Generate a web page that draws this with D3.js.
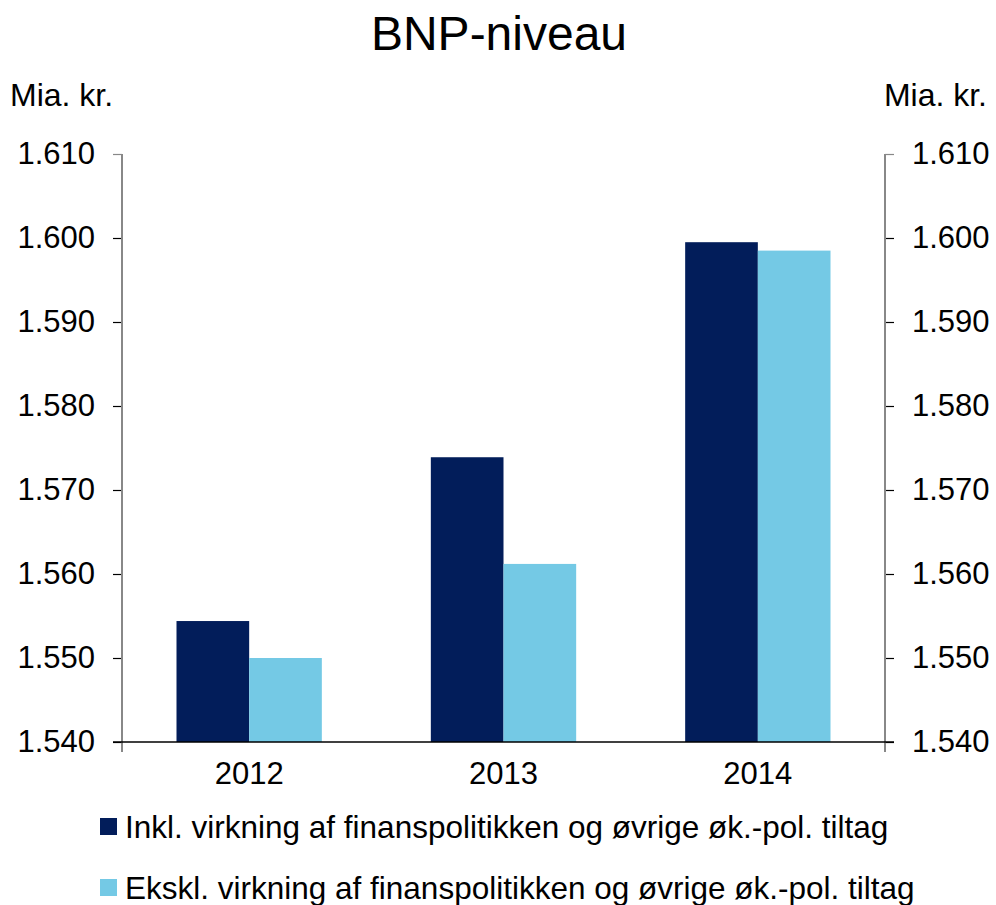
<!DOCTYPE html>
<html>
<head>
<meta charset="utf-8">
<script src="https://cdn.jsdelivr.net/npm/d3@7"></script>
<style>
  body { margin: 0; background: #fff; }
  svg text { font-family: "Liberation Sans", Arial, sans-serif; fill: #000; }
</style>
</head>
<body>
<svg id="chart" width="996" height="905"></svg>
<script>
const years = ['2012', '2013', '2014']
const seriesNames = [
  'Inkl. virkning af finanspolitikken og øvrige øk.-pol. tiltag',
  'Ekskl. virkning af finanspolitikken og øvrige øk.-pol. tiltag'
]
const inkl = [1554.4, 1573.9, 1599.5]
const ekskl = [1550.0, 1561.2, 1598.5]
const yTicks = [1540, 1550, 1560, 1570, 1580, 1590, 1600, 1610]
const colors = ['#021D5A', '#74C9E5']

const svg = d3.select('#chart')
const plotLeft = 122
const plotRight = 885
const plotTop = 154
const plotBottom = 742

const x = d3.scaleBand().domain(years).range([plotLeft, plotRight])
const xInner = d3.scaleBand().domain([0, 1]).range([0, x.bandwidth()]).paddingInner(0).paddingOuter(0.75)
const y = d3.scaleLinear().domain([1540, 1610]).range([plotBottom, plotTop])

const fmt = d => d3.format(',')(d).replace(',', '.')

// title
svg.append('text').attr('x', 499).attr('y', 50).attr('text-anchor', 'middle')
  .style('font-size', '48px').text('BNP-niveau')
svg.append('text').attr('x', 10).attr('y', 106).style('font-size', '32px').text('Mia. kr.')
svg.append('text').attr('x', 987).attr('y', 106).attr('text-anchor', 'end').style('font-size', '32px').text('Mia. kr.')

// bars
const data = [inkl, ekskl]
data.forEach((vals, s) => {
  svg.append('g').selectAll('rect').data(vals).join('rect')
    .attr('x', (d, i) => x(years[i]) + xInner(s))
    .attr('width', xInner.bandwidth())
    .attr('y', d => y(d))
    .attr('height', d => y(1540) - y(d))
    .attr('fill', colors[s])
})

// axes
const leftAxis = svg.append('g').attr('transform', `translate(${plotLeft},0)`)
  .call(d3.axisLeft(y).tickValues(yTicks).tickSize(9).tickPadding(18).tickFormat(fmt))
const rightAxis = svg.append('g').attr('transform', `translate(${plotRight},0)`)
  .call(d3.axisRight(y).tickValues(yTicks).tickSize(9).tickPadding(18).tickFormat(fmt))
;[leftAxis, rightAxis].forEach(g => {
  g.select('.domain').remove()
  g.selectAll('.tick line').attr('stroke', '#000').attr('stroke-width', 1.2)
  g.selectAll('.tick text').style('font-size', '31px')
  g.attr('font-family', null).attr('font-size', null)
  g.selectAll('.tick line').filter(d => d === 1610).attr('stroke', '#888')
})

// vertical axis lines
svg.append('line').attr('x1', plotLeft).attr('x2', plotLeft).attr('y1', plotTop).attr('y2', plotBottom + 10)
  .attr('stroke', '#888').attr('stroke-width', 2)
svg.append('line').attr('x1', plotRight).attr('x2', plotRight).attr('y1', plotTop).attr('y2', plotBottom + 10)
  .attr('stroke', '#888').attr('stroke-width', 2)

// baseline
svg.append('line').attr('x1', plotLeft - 9).attr('x2', plotRight + 9).attr('y1', plotBottom).attr('y2', plotBottom)
  .attr('stroke', '#000').attr('stroke-width', 1.5)

// x labels
const xAxis = svg.append('g').attr('transform', `translate(0,${plotBottom})`)
  .call(d3.axisBottom(x).tickSize(0).tickPadding(20))
xAxis.select('.domain').remove()
xAxis.attr('font-family', null).attr('font-size', null)
xAxis.selectAll('.tick text').style('font-size', '31px')

// legend
const legend = svg.append('g')
seriesNames.forEach((name, s) => {
  const ly = 818 + s * 61
  legend.append('rect').attr('x', 100).attr('y', ly).attr('width', 17).attr('height', 17).attr('fill', colors[s])
  legend.append('text').attr('x', 125).attr('y', ly + 20).style('font-size', '31.5px').text(name)
})
</script>
</body>
</html>
